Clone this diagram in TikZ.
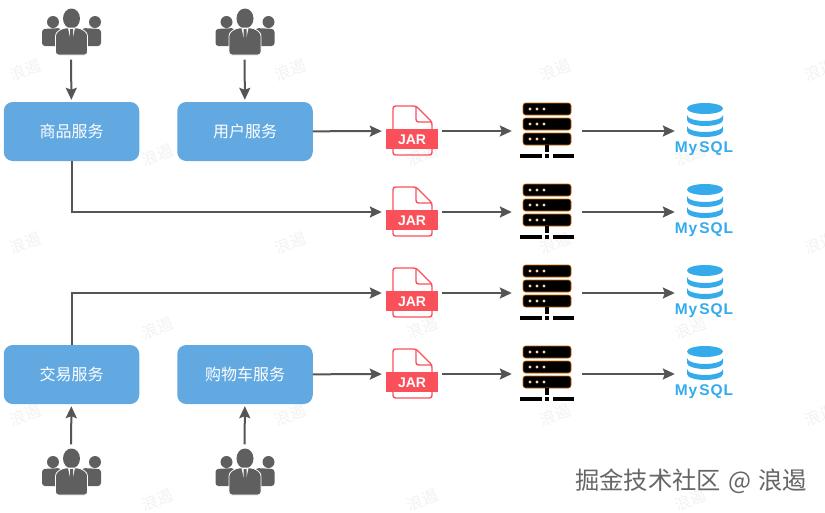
\documentclass[tikz,border=0pt]{standalone}
\usepackage{fontspec}
\setmainfont{Noto Sans CJK SC}
\newfontfamily\latinfont{Liberation Sans}
\usetikzlibrary{calc, positioning, arrows.meta}
\definecolor{boxblue}{HTML}{62A9E2}
\definecolor{linegray}{HTML}{555555}
\definecolor{icongray}{HTML}{5F5F5F}
\definecolor{iconred}{HTML}{F9505A}
\definecolor{dbblue}{HTML}{35ABEC}
\definecolor{dotpeach}{HTML}{FFD9AE}

\tikzset{
  peopleicon/.pic={
    \fill[icongray] (-18,-10) circle (6);
    \fill[icongray] (24,-10) circle (6);
    \fill[icongray, rounded corners=3] (-29,-3) -- (-10,-4) -- (-10,14) -- (-29,14) -- cycle;
    \fill[icongray, rounded corners=3] (30,-3) -- (11,-4) -- (11,14) -- (30,14) -- cycle;
    \fill[icongray] (0.5,-13.5) ellipse (8.5 and 10);
    \draw[white, fill=icongray, line width=.8, rounded corners=3] (-15.5,23) -- (-15.5,1) -- (-8,-4) -- (9,-4) -- (16.5,1) -- (16.5,23) -- cycle;
    \fill[white] (-3,-4) -- (4,-4) -- (2,5) -- (0.5,7) -- (-1,5) -- cycle;
    \fill[icongray] (-1,-3) -- (2,-3) -- (2,6) -- (0.5,9) -- (-1,6) -- cycle;
  },
  jaricon/.pic={
    \draw[iconred, line width=1.4, rounded corners=2.5] (-19,3) -- (-19,-25) -- (4,-25) -- (20,-9) -- (20,3);
    \draw[iconred, line width=1.4, rounded corners=2.5] (-19,16) -- (-19,24) -- (20,24) -- (20,16);
    \draw[iconred, line width=1.4, rounded corners=2.5] (4,-25) -- (4,-9) -- (20,-9);
    \fill[iconred] (-26,-2) rectangle (26,18);
  },
  servericon/.pic={
    \foreach \t in {-28,-13,2} {
      \draw[fill=black, draw=orange!80!black, line width=.6, rounded corners=2.5] (-24,\t) rectangle (24,\t+12);
      \foreach \d in {-17,-10,-3} \fill[dotpeach] (\d,\t+6) circle (1.7);
    }
    \fill[black] (-2,14) rectangle (2,21);
    \fill[black] (-27,23) rectangle (-5,27);
    \fill[black] (-2,23) rectangle (2,27);
    \fill[black] (6,23) rectangle (27,27);
  },
  dbicon/.pic={
    \fill[dbblue] (0,-22.5) ellipse (18 and 5.5);
    \fill[dbblue] (-18,-11) arc (180:0:18 and 6) -- (18,-16) arc (0:180:18 and 6) -- cycle;
    \fill[dbblue] (-18,0) arc (180:0:18 and 6) -- (18,-5) arc (0:180:18 and 6) -- cycle;
  }
}

\begin{document}
\begin{tikzpicture}[x=1pt, y=-1pt,
  svc/.style={fill=boxblue, rounded corners=9pt, minimum width=135.5pt, minimum height=59pt, inner sep=0pt, text=white, font=\fontsize{16}{16}\selectfont},
  slot/.style={inner sep=0pt, minimum height=40pt},
  usr/.style={inner sep=0pt, minimum width=60pt, minimum height=55pt},
  flow/.style={draw=linegray, line width=2pt, -{Stealth[length=12pt, width=11pt, inset=2pt]}}]
\useasboundingbox (0,0) rectangle (825,512);

% watermark
\foreach \x/\y in {25/70, 157/155, 290/70, 422/155, 555/70, 690/155, 820/70,
                   25/243, 157/328, 290/243, 422/328, 555/243, 690/328, 820/243,
                   25/415, 157/500, 290/415, 422/500, 555/415, 690/500, 820/415}
  \node[rotate=20, text=black!5, font=\fontsize{16}{16}\selectfont] at (\x,\y) {浪遏};

% services
\node[svc] (shop) at (71.5,131.5) {商品服务};
\node[svc] (user) at (245,131.5) {用户服务};
\node[svc] (trade) at (71.5,374.5) {交易服务};
\node[svc] (cart) at (245,374.5) {购物车服务};

% users
\node[usr] (ushop) at (71,32) {};
\node[usr] (uuser) at (244.5,32) {};
\node[usr] (utrade) at (71,472) {};
\node[usr] (ucart) at (244.5,472) {};
\pic at (ushop) {peopleicon};
\pic at (uuser) {peopleicon};
\pic at (utrade) {peopleicon};
\pic at (ucart) {peopleicon};

% one jar, server and database per row
\foreach \i/\y in {1/131, 2/212, 3/293, 4/374} {
  \node[slot, minimum width=60pt] (J\i) at (412,\y) {};
  \node[slot, minimum width=70pt] (S\i) at (547,\y) {};
  \node[slot, minimum width=60pt] (D\i) at (705,\y) {};
  \pic at (J\i) {jaricon};
  \node[text=white, font=\latinfont\bfseries\fontsize{14}{14}\selectfont, inner sep=0pt] (JT\i) at ($(J\i)+(0,8.5)$) {JAR};
  \pic at (S\i) {servericon};
  \pic at (D\i) {dbicon};
  \node[text=dbblue, font=\latinfont\bfseries\fontsize{15.5}{16}\selectfont, inner sep=0pt] (DT\i) at ($(D\i)+(-1,18)$) {M\kern1pt y\kern2pt S\kern1pt Q\kern1pt L};
  \draw[flow] (J\i) -- (S\i);
  \draw[flow] (S\i) -- (D\i);
}

% connectors
\draw[flow, shorten >=2pt] (ushop) -- (shop);
\draw[flow, shorten >=2pt] (uuser) -- (user);
\draw[flow, shorten >=2pt] (utrade) -- (trade);
\draw[flow, shorten >=2pt] (ucart) -- (cart);
\draw[flow] (user) -- (J1);
\draw[flow] (shop.south) |- (J2);
\draw[flow] (trade.north) |- (J3);
\draw[flow] (cart) -- (J4);

\node[text=black!60, font=\fontsize{24.3}{24}\selectfont, inner sep=0pt] (mark) at (691,481) {掘金技术社区\hspace{7pt}@\hspace{7pt}浪遏};
\end{tikzpicture}
\end{document}
